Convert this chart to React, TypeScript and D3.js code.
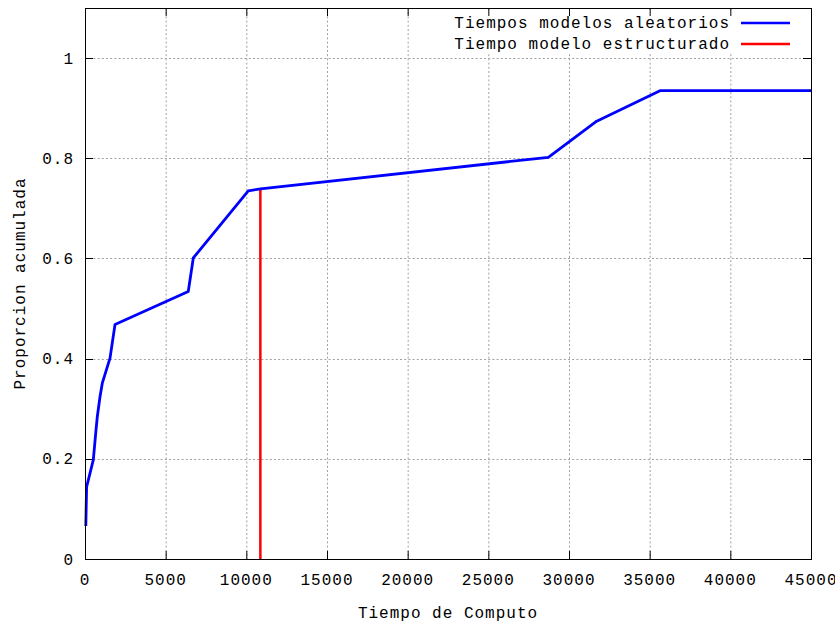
import React from "react";
import * as d3 from "d3";

const timesX = [50, 100, 515, 663, 762, 930, 1072, 1550, 1860, 6400, 6713, 10120, 10880, 28718, 31717, 35640, 45000];
const propY = [0.066, 0.144, 0.198, 0.251, 0.284, 0.324, 0.351, 0.401, 0.468, 0.534, 0.601, 0.735, 0.739, 0.802, 0.874, 0.935, 0.935];
const structuredTime = 10870;
const structuredTop = 0.739;
const xTicks = [0, 5000, 10000, 15000, 20000, 25000, 30000, 35000, 40000, 45000];
const yTicks = [0, 0.2, 0.4, 0.6, 0.8, 1];
const yTickLabels = ["0", "0.2", "0.4", "0.6", "0.8", "1"];
const legendLabels = ["Tiempos modelos aleatorios", "Tiempo modelo estructurado"];
const seriesColors = ["#0000ff", "#ff0000"];

const W = 835, H = 623;
const L = 85, R = 811, T = 8, B = 559;
const font = "'Liberation Mono', 'DejaVu Sans Mono', monospace";

export default function App() {
  const x = d3.scaleLinear().domain([0, 45000]).range([L, R]);
  const y = d3.scaleLinear().domain([0, 1.1]).range([B, T]);
  const pts: [number, number][] = timesX.map((t, i) => [t, propY[i]]);
  const line = d3.line<[number, number]>().x(d => x(d[0])).y(d => y(d[1]));
  const tickLen = 8;
  const textStyle = { fontFamily: font, fontSize: 16, letterSpacing: 1 } as any;
  return (
    <svg width={W} height={H} style={{ position: "absolute", left: 0, top: 0, background: "#fff" }}>
      <rect x={0} y={0} width={W} height={H} fill="#fff" />
      <g stroke="#a0a0a0" strokeWidth={1} strokeDasharray="2,2.2">
        {xTicks.slice(1, -1).map(t => (
          <line key={"gx" + t} x1={x(t) + 0.5} x2={x(t) + 0.5} y1={T} y2={B} />
        ))}
        {yTicks.slice(1).map(t => (
          <line key={"gy" + t} x1={L} x2={R} y1={Math.round(y(t)) + 0.5} y2={Math.round(y(t)) + 0.5} />
        ))}
      </g>
      <rect x={440} y={12} width={368} height={42} fill="#fff" />
      <g stroke="#000" strokeWidth={1}>
        {xTicks.map(t => (
          <g key={"tx" + t}>
            <line x1={x(t) + 0.5} x2={x(t) + 0.5} y1={B} y2={B - tickLen} />
            <line x1={x(t) + 0.5} x2={x(t) + 0.5} y1={T} y2={T + tickLen} />
          </g>
        ))}
        {yTicks.map(t => (
          <g key={"ty" + t}>
            <line x1={L} x2={L + tickLen} y1={Math.round(y(t)) + 0.5} y2={Math.round(y(t)) + 0.5} />
            <line x1={R} x2={R - tickLen} y1={Math.round(y(t)) + 0.5} y2={Math.round(y(t)) + 0.5} />
          </g>
        ))}
      </g>
      <line x1={x(structuredTime)} x2={x(structuredTime)} y1={y(0)} y2={y(structuredTop)} stroke={seriesColors[1]} strokeWidth={2.5} />
      <path d={line(pts) || ""} fill="none" stroke={seriesColors[0]} strokeWidth={2.8} strokeLinejoin="round" />
      <rect x={L + 0.5} y={T + 0.5} width={R - L} height={B - T} fill="none" stroke="#000" strokeWidth={1} />
      {xTicks.map(t => (
        <text key={"lx" + t} x={x(t)} y={585} textAnchor="middle" style={textStyle}>{String(t)}</text>
      ))}
      {yTicks.map((t, i) => (
        <text key={"ly" + t} x={74} y={y(t) + 5.5} textAnchor="end" style={textStyle}>{yTickLabels[i]}</text>
      ))}
      <text x={(L + R) / 2} y={618} textAnchor="middle" style={textStyle}>Tiempo de Computo</text>
      <text transform={`translate(25,${(T + B) / 2}) rotate(-90)`} textAnchor="middle" style={textStyle}>Proporcion acumulada</text>
      {legendLabels.map((lab, i) => (
        <g key={lab}>
          <text x={730} y={28 + i * 21} textAnchor="end" style={textStyle}>{lab}</text>
          <line x1={741} x2={790} y1={23 + i * 21} y2={23 + i * 21} stroke={seriesColors[i]} strokeWidth={2.5} />
        </g>
      ))}
    </svg>
  );
}
